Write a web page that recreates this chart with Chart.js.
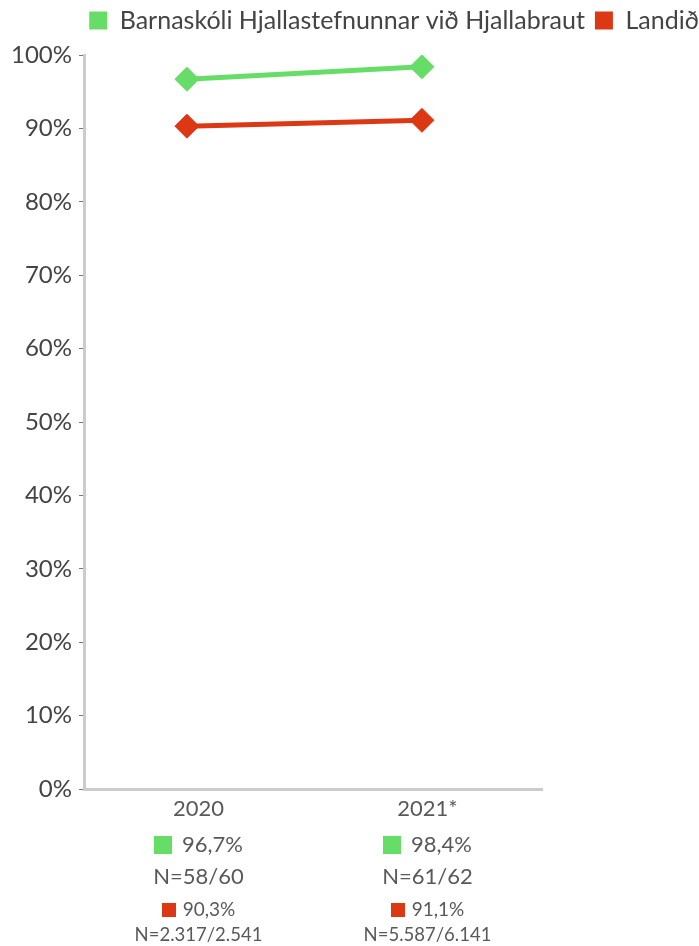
<!DOCTYPE html>
<html>
<head>
<meta charset="utf-8">
<script src="https://cdn.jsdelivr.net/npm/chart.js@4"></script>
<style>
  html, body { margin: 0; padding: 0; background: #fff; overflow: hidden; }
  #wrap { width: 699px; height: 946px; overflow: hidden; }
</style>
</head>
<body>
<div id="wrap"><canvas id="c" width="788" height="946"></canvas></div>
<script>
const categories = ['2020', '2021*'];
const schoolLabel = 'Barnaskóli Hjallastefnunnar við Hjallabraut';
const nationLabel = 'Landið';
const schoolValues = [96.7, 98.4];
const nationValues = [90.3, 91.1];
const schoolValueText = ['96,7%', '98,4%'];
const schoolNText = ['N=58/60', 'N=61/62'];
const nationValueText = ['90,3%', '91,1%'];
const nationNText = ['N=2.317/2.541', 'N=5.587/6.141'];
const yTickStep = 10;

const GREEN = '#66dd66';
const RED = '#dd3814';
const TEXT = '#444444';
const TEXT2 = '#595959';
const FONT = 'Lato';
const CANVAS_W = 788;
const LEGEND_EXTRA = 12;

const legendSpacer = {
  id: 'legendSpacer',
  beforeLayout(chart) {
    const lg = chart.legend;
    if (lg && !lg._spacerPatched) {
      const orig = lg.fit.bind(lg);
      lg.fit = function () { orig(); this.height += LEGEND_EXTRA; };
      lg._spacerPatched = true;
    }
  }
};

const bottomLabels = {
  id: 'bottomLabels',
  afterDraw(chart) {
    const { ctx, chartArea } = chart;
    const n = categories.length;
    const bw = chartArea.width / n;
    const b = chartArea.bottom;
    ctx.save();
    ctx.textBaseline = 'middle';
    function swatchRow(cx, cy, size, color, text, fontSize, gap) {
      ctx.font = fontSize + 'px ' + FONT;
      const tw = ctx.measureText(text).width;
      const total = size + gap + tw;
      const x0 = cx - total / 2;
      ctx.fillStyle = color;
      ctx.fillRect(Math.round(x0), Math.round(cy - size / 2), size, size);
      ctx.fillStyle = TEXT2;
      ctx.textAlign = 'left';
      ctx.fillText(text, x0 + size + gap, cy);
    }
    categories.forEach((cat, i) => {
      const cx = chartArea.left + bw * (i + 0.5);
      ctx.fillStyle = TEXT2;
      ctx.textAlign = 'center';
      ctx.font = '22px ' + FONT;
      ctx.fillText(cat, cx, b + 20);
      swatchRow(cx, b + 56, 18, GREEN, schoolValueText[i], 22, 10);
      ctx.fillStyle = TEXT2;
      ctx.textAlign = 'center';
      ctx.font = '22px ' + FONT;
      ctx.fillText(schoolNText[i], cx, b + 88);
      swatchRow(cx, b + 121, 14, RED, nationValueText[i], 19, 7);
      ctx.fillStyle = TEXT2;
      ctx.textAlign = 'center';
      ctx.font = '18.5px ' + FONT;
      ctx.fillText(nationNText[i], cx, b + 146);
    });
    ctx.restore();
  }
};

new Chart(document.getElementById('c'), {
  type: 'line',
  data: {
    datasets: [
      {
        label: schoolLabel,
        data: schoolValues.map((v, i) => ({ x: i, y: v })),
        borderColor: GREEN,
        backgroundColor: GREEN,
        borderWidth: 5,
        pointStyle: 'rectRot',
        pointRadius: 12,
        pointBorderWidth: 1,
        pointBackgroundColor: GREEN,
        pointBorderColor: GREEN,
        tension: 0
      },
      {
        label: nationLabel,
        data: nationValues.map((v, i) => ({ x: i, y: v })),
        borderColor: RED,
        backgroundColor: RED,
        borderWidth: 5,
        pointStyle: 'rectRot',
        pointRadius: 12,
        pointBorderWidth: 1,
        pointBackgroundColor: RED,
        pointBorderColor: RED,
        tension: 0
      }
    ]
  },
  options: {
    responsive: false,
    animation: false,
    devicePixelRatio: 1,
    layout: { padding: { top: -2, left: 0, right: 0, bottom: 0 } },
    plugins: {
      tooltip: { enabled: false },
      legend: {
        position: 'top',
        align: 'center',
        labels: {
          font: { family: FONT, size: 25 },
          color: TEXT,
          boxWidth: 18,
          boxHeight: 18,
          padding: 10,
          generateLabels(chart) {
            return Chart.defaults.plugins.legend.labels.generateLabels(chart)
              .map(l => Object.assign(l, { lineWidth: 0 }));
          }
        }
      }
    },
    scales: {
      x: {
        type: 'linear',
        min: -0.438,
        max: 1.511,
        grid: { display: false },
        ticks: { display: false },
        border: { display: true, color: '#cccccc', width: 3 },
        afterFit(s) { s.height = 157; }
      },
      y: {
        min: 0,
        max: 100,
        ticks: {
          stepSize: yTickStep,
          callback: v => v + '%',
          font: { family: FONT, size: 24 },
          color: TEXT,
          padding: 7
        },
        grid: {
          display: true,
          drawOnChartArea: false,
          drawTicks: true,
          tickLength: 5,
          color: '#777777',
          lineWidth: 1
        },
        border: { display: true, color: '#cccccc', width: 3 },
        afterFit(s) { s.width = 84; }
      },
      yRight: {
        type: 'linear',
        position: 'right',
        display: true,
        grid: { display: false },
        ticks: { display: false },
        border: { display: false },
        afterFit(s) { s.width = CANVAS_W - 542; }
      }
    }
  },
  plugins: [legendSpacer, bottomLabels]
});
</script>
</body>
</html>
